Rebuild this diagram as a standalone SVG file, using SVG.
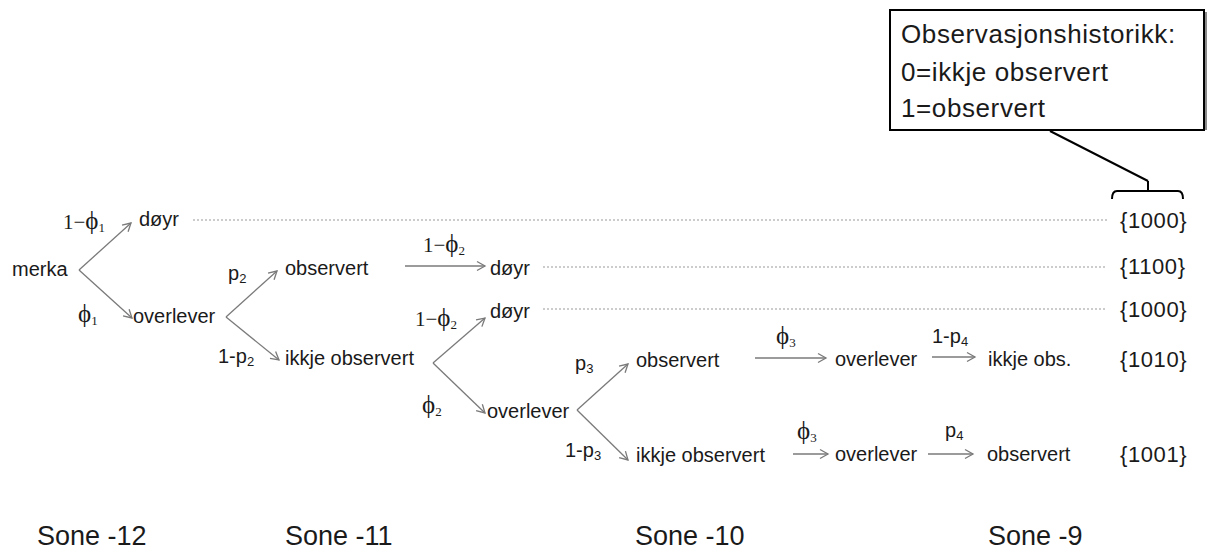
<svg xmlns="http://www.w3.org/2000/svg" width="1207" height="551" viewBox="0 0 1207 551">
<style>
.t{font-family:"Liberation Sans",Arial,sans-serif;font-size:20px;fill:#1a1a1a}
.m{font-family:"Liberation Serif","DejaVu Serif",serif;font-size:21px;fill:#1a1a1a}
.f{font-size:25px}
.s{font-size:13px}
.c{font-family:"Liberation Sans",Arial,sans-serif;font-size:22px;fill:#1a1a1a;letter-spacing:0.6px}
.z{font-family:"Liberation Sans",Arial,sans-serif;font-size:27px;fill:#1a1a1a}
.b{font-family:"Liberation Sans",Arial,sans-serif;font-size:26px;fill:#1a1a1a;letter-spacing:0.6px}
.a{stroke:#7a7a7a;stroke-width:1.3;fill:none;marker-end:url(#ah)}
.d{stroke:#9a9a9a;stroke-width:1.2;stroke-dasharray:2 2;fill:none}
</style>
<defs>
<marker id="ah" markerUnits="userSpaceOnUse" orient="auto" markerWidth="14" markerHeight="14" refX="0" refY="0" viewBox="-10 -7 12 14" overflow="visible">
<path d="M-8,-4.5 L0,0 L-8,4.5" stroke="#7a7a7a" stroke-width="1.3" fill="none"/>
</marker>
</defs>

<g id="connectors">
<path class="a" d="M79,270 L131,223"/>
<path class="a" d="M79,270 L132,318"/>
<path class="a" d="M226,317 L277,271"/>
<path class="a" d="M226,317 L279,360"/>
<path class="a" d="M405,266 L485,266"/>
<path class="a" d="M433,363 L485,318"/>
<path class="a" d="M433,363 L485,413"/>
<path class="a" d="M577,410 L628,364"/>
<path class="a" d="M577,410 L628,460"/>
<path class="a" d="M755,358 L826,358"/>
<path class="a" d="M932,357 L975,357"/>
<path class="a" d="M793,454 L828,454"/>
<path class="a" d="M928,454 L973,454"/>
<path class="d" d="M193,220 L1107,220"/>
<path class="d" d="M543,267 L1107,267"/>
<path class="d" d="M543,309 L1107,309"/>
<path d="M1050,131 L1148,181 M1148,181 L1148,191 M1112,199 Q1112,191 1117,191 L1178,191 Q1183,191 1183,199" stroke="#000" stroke-width="2" fill="none"/>
</g>

<g id="callout">
<rect x="1203" y="12" width="4" height="118" fill="#8a8a8a"/>
<rect x="890" y="10" width="314" height="120" fill="#fff" stroke="#000" stroke-width="2"/>
<text class="b" x="901" y="43">Observasjonshistorikk:</text>
<text class="b" x="901" y="81">0=ikkje observert</text>
<text class="b" x="901" y="117">1=observert</text>
</g>

<g id="n-merka"><text class="t" x="12" y="276">merka</text></g>
<g id="n-doyr1"><text class="t" x="139" y="226">døyr</text></g>
<g id="l-1phi1"><text class="m" x="63" y="229">1−<tspan class="f">ϕ</tspan><tspan class="s" dy="3">1</tspan></text></g>
<g id="l-phi1"><text class="m" x="78" y="322"><tspan class="f">ϕ</tspan><tspan class="s" dy="3">1</tspan></text></g>
<g id="n-overlever1"><text class="t" x="133" y="323">overlever</text></g>
<g id="l-p2"><text class="t" x="228" y="280">p<tspan class="s" dy="3">2</tspan></text></g>
<g id="l-1p2"><text class="t" x="218" y="363">1-p<tspan class="s" dy="3">2</tspan></text></g>
<g id="n-observert2"><text class="t" x="285" y="275">observert</text></g>
<g id="n-ikkje2"><text class="t" x="285" y="365">ikkje observert</text></g>
<g id="l-1phi2a"><text class="m" x="423" y="252">1−<tspan class="f">ϕ</tspan><tspan class="s" dy="3">2</tspan></text></g>
<g id="n-doyr2"><text class="t" x="490" y="275">døyr</text></g>
<g id="l-1phi2b"><text class="m" x="415" y="326">1−<tspan class="f">ϕ</tspan><tspan class="s" dy="3">2</tspan></text></g>
<g id="n-doyr3"><text class="t" x="490" y="318">døyr</text></g>
<g id="l-phi2"><text class="m" x="422" y="413"><tspan class="f">ϕ</tspan><tspan class="s" dy="3">2</tspan></text></g>
<g id="n-overlever3"><text class="t" x="487" y="418">overlever</text></g>
<g id="l-p3"><text class="t" x="575" y="370">p<tspan class="s" dy="3">3</tspan></text></g>
<g id="l-1p3"><text class="t" x="565" y="457">1-p<tspan class="s" dy="3">3</tspan></text></g>
<g id="n-observert4"><text class="t" x="636" y="367">observert</text></g>
<g id="n-ikkje4"><text class="t" x="636" y="462">ikkje observert</text></g>
<g id="l-phi3a"><text class="m" x="776" y="344"><tspan class="f">ϕ</tspan><tspan class="s" dy="3">3</tspan></text></g>
<g id="n-overlever4"><text class="t" x="835" y="366">overlever</text></g>
<g id="l-1p4"><text class="t" x="932" y="343">1-p<tspan class="s" dy="3">4</tspan></text></g>
<g id="n-ikkjeobs"><text class="t" x="988" y="366">ikkje obs.</text></g>
<g id="l-phi3b"><text class="m" x="797" y="439"><tspan class="f">ϕ</tspan><tspan class="s" dy="3">3</tspan></text></g>
<g id="n-overlever5"><text class="t" x="835" y="461">overlever</text></g>
<g id="l-p4"><text class="t" x="945" y="437">p<tspan class="s" dy="3">4</tspan></text></g>
<g id="n-observert5"><text class="t" x="987" y="461">observert</text></g>

<g id="codes">
<text class="c" x="1120" y="228">{1000}</text>
<text class="c" x="1120" y="274">{1100}</text>
<text class="c" x="1120" y="317">{1000}</text>
<text class="c" x="1120" y="367">{1010}</text>
<text class="c" x="1120" y="462">{1001}</text>
</g>

<g id="zones">
<text class="z" x="37" y="545">Sone -12</text>
<text class="z" x="285" y="545">Sone -11</text>
<text class="z" x="635" y="545">Sone -10</text>
<text class="z" x="988" y="545">Sone -9</text>
</g>
</svg>
